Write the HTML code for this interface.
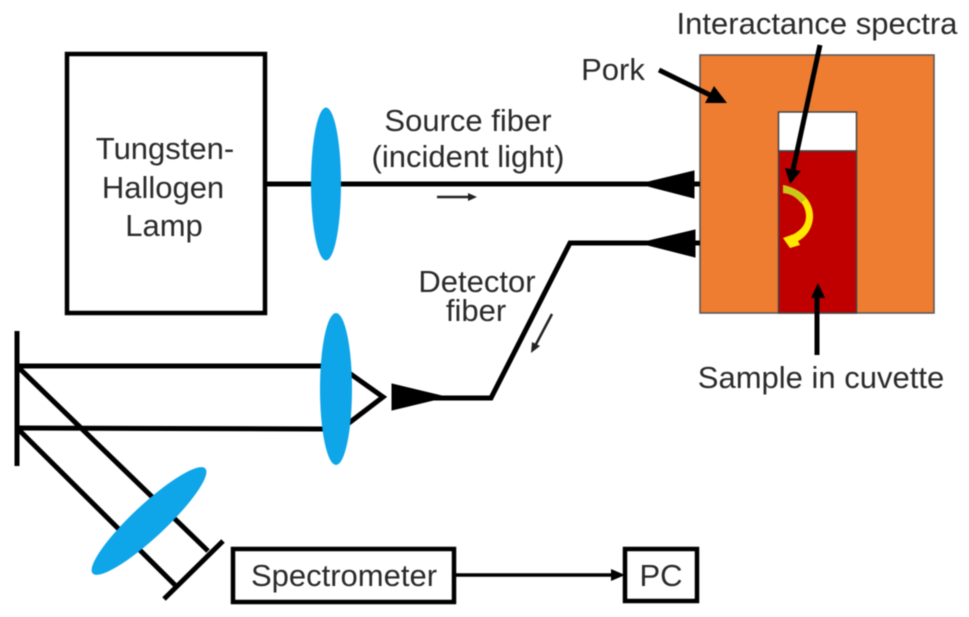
<!DOCTYPE html>
<html>
<head>
<meta charset="utf-8">
<style>
html,body{margin:0;padding:0;background:#fff;}
svg{display:block;filter:blur(0.4px);}
text{font-family:"Liberation Sans",Arial,sans-serif;font-size:31px;fill:#2a2a2a;text-anchor:middle;}
</style>
</head>
<body>
<svg width="969" height="617" viewBox="0 0 969 617" xmlns="http://www.w3.org/2000/svg">
<!-- Lamp -->
<rect x="67" y="54" width="198" height="259" fill="#fff" stroke="#000" stroke-width="4.500"/>
<text x="165" y="159">Tungsten-</text>
<text x="163" y="198">Hallogen</text>
<text x="164" y="236">Lamp</text>

<!-- Pork block -->
<rect x="700" y="55" width="234" height="258" fill="#ef7d31" stroke="#555" stroke-width="1.500"/>
<rect x="778.500" y="112" width="78" height="39" fill="#fff" stroke="#444" stroke-width="1.500"/>
<rect x="778.500" y="151" width="78" height="162" fill="#c00000" stroke="#444" stroke-width="1.500"/>

<!-- Source fiber -->
<line x1="265" y1="184" x2="700" y2="184" stroke="#000" stroke-width="5"/>
<polygon points="640,184 694,171 694,198" fill="#000" stroke="#000" stroke-width="1"/>
<!-- Detector fiber -->
<polyline points="700,243 570,243 491,398 430,398" fill="none" stroke="#000" stroke-width="5"/>
<polygon points="640,243 695,230 695,257" fill="#000" stroke="#000" stroke-width="1"/>
<polygon points="446,397 392,384 392,410" fill="#000" stroke="#000" stroke-width="1"/>

<!-- small arrows -->
<line x1="437" y1="197" x2="472" y2="197" stroke="#222" stroke-width="2.500"/>
<polygon points="477,197 468,193 468,201" fill="#222"/>
<line x1="552" y1="314" x2="534" y2="348" stroke="#222" stroke-width="2.500"/>
<polygon points="531,353 532,342 540,346" fill="#222"/>

<!-- Optical paths -->
<line x1="17" y1="366" x2="325" y2="366" stroke="#000" stroke-width="5"/>
<line x1="17" y1="428" x2="325" y2="429" stroke="#000" stroke-width="5"/>
<line x1="17" y1="331" x2="17" y2="466" stroke="#000" stroke-width="5"/>
<line x1="17" y1="366" x2="208" y2="551" stroke="#000" stroke-width="5"/>
<line x1="17" y1="428" x2="175" y2="585" stroke="#000" stroke-width="5"/>
<line x1="164" y1="599" x2="223" y2="541" stroke="#000" stroke-width="5"/>
<polyline points="345,370 383,397 345,426" fill="none" stroke="#000" stroke-width="5"/>

<!-- Lenses -->
<ellipse cx="326" cy="184" rx="15" ry="76.500" fill="#0ea5e9"/>
<ellipse cx="336" cy="389" rx="16" ry="76" fill="#0ea5e9"/>
<ellipse cx="149" cy="521" rx="77" ry="16.500" transform="rotate(-43 149 521)" fill="#0ea5e9"/>

<!-- Source labels -->
<text x="468" y="131">Source fiber</text>
<text x="468" y="167">(incident light)</text>
<text x="477" y="292">Detector</text>
<text x="476" y="321">fiber</text>

<!-- Spectrometer -->
<rect x="233" y="549" width="221" height="53" fill="#fff" stroke="#000" stroke-width="4.500"/>
<text x="344" y="586">Spectrometer</text>
<line x1="454" y1="575" x2="615" y2="575" stroke="#000" stroke-width="3.500"/>
<polygon points="625,575 611,569 611,581" fill="#000"/>
<rect x="625" y="549" width="72" height="52" fill="#fff" stroke="#000" stroke-width="4.500"/>
<text x="661" y="586">PC</text>

<!-- Pork label and arrow -->
<text x="613" y="80">Pork</text>
<line x1="659" y1="70" x2="712" y2="96" stroke="#000" stroke-width="5"/>
<polygon points="727,103 705,103 714,86" fill="#000"/>

<!-- Interactance -->
<text x="817" y="34">Interactance spectra</text>
<line x1="820" y1="45" x2="793" y2="170" stroke="#000" stroke-width="5"/>
<polygon points="790,184 785,168 801,171" fill="#000"/>

<!-- Curved yellow arrow -->
<path d="M783,185 C803,189 814,203 813,218 C812,229 806,237 798,241 L800,245 L790,248 L783,238 L794,234 C802,229 806,224 806,216 C806,204 796,194 783,193 Z" fill="#ffe800"/>
<path d="M783,185 C793,187 801,192 806,199 L801,203 C796,197 790,193 783,193 Z" fill="#c9c818"/>

<!-- Sample arrow -->
<line x1="817" y1="355" x2="817" y2="295" stroke="#000" stroke-width="5"/>
<polygon points="818,283 811,298 825,298" fill="#000"/>
<text x="821" y="388">Sample in cuvette</text>
</svg>
</body>
</html>
